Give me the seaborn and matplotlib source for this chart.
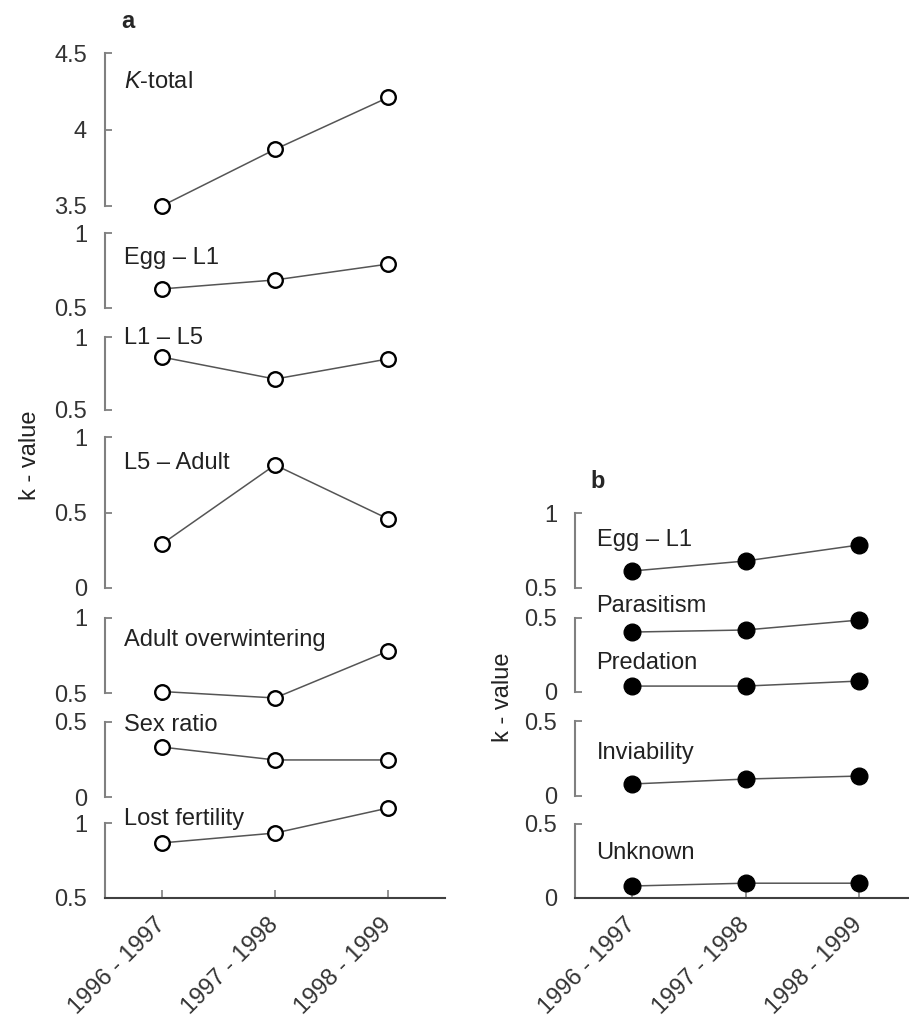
import matplotlib
matplotlib.use('Agg')
import matplotlib.pyplot as plt
from matplotlib.ticker import FuncFormatter
import seaborn as sns
import pandas as pd

# --- data ---
periods = ['1996 - 1997', '1997 - 1998', '1998 - 1999']

# panel a (open circles)
a_names = [r'$K$-total', 'Egg – L1', 'L1 – L5', 'L5 – Adult',
           'Adult overwintering', 'Sex ratio', 'Lost fertility']
a_k_total = [3.50, 3.87, 4.21]
a_egg_l1 = [0.627, 0.687, 0.793]
a_l1_l5 = [0.863, 0.712, 0.850]
a_l5_adult = [0.290, 0.815, 0.457]
a_adult_overwinter = [0.510, 0.467, 0.780]
a_sex_ratio = [0.333, 0.247, 0.247]
a_lost_fertility = [0.867, 0.933, 1.100]
a_ticks = [[3.5, 4, 4.5], [0.5, 1], [0.5, 1], [0, 0.5, 1],
           [0.5, 1], [0, 0.5], [0.5, 1]]

# panel b (filled circles); parasitism and predation share one axis
b_egg_l1 = [0.613, 0.680, 0.787]
b_parasitism = [0.405, 0.419, 0.486]
b_predation = [0.040, 0.040, 0.074]
b_inviability = [0.080, 0.113, 0.133]
b_unknown = [0.081, 0.100, 0.100]
b_ticks = [[0.5, 1], [0, 0.5], [0, 0.5], [0, 0.5]]

sns.set_theme(style='white')
plt.rcParams['font.family'] = ['Liberation Sans', 'DejaVu Sans']
plt.rcParams['mathtext.fontset'] = 'custom'
plt.rcParams['mathtext.rm'] = 'Liberation Sans'
plt.rcParams['mathtext.it'] = 'Liberation Sans:italic'

W, H = 909, 1019
FS = 17
fig = plt.figure(figsize=(W / 100, H / 100), dpi=100)


def add_axes(left, right, top, bottom):
    # pixel box -> figure fraction
    return fig.add_axes([left / W, 1 - bottom / H, (right - left) / W, (bottom - top) / H])


def style_axes(ax, ticks, last):
    ax.set_xlim(-0.5, 2.5)
    ax.set_ylim(ticks[0], ticks[-1])
    ax.set_facecolor('none')
    for s in ['top', 'right']:
        ax.spines[s].set_visible(False)
    ax.spines['left'].set_color('#808080')
    ax.spines['left'].set_linewidth(1.5)
    ax.set_yticks(ticks)
    ax.yaxis.set_major_formatter(FuncFormatter(lambda v, p: '%g' % v))
    ax.tick_params(axis='y', direction='in', length=5, width=1.3, color='#808080',
                   pad=13, labelsize=FS, labelcolor='#333333', left=True)
    ax.set_ylabel('')
    ax.set_xlabel('')
    if last:
        ax.spines['bottom'].set_color('#404040')
        ax.spines['bottom'].set_linewidth(1.5)
        ax.set_xticks(range(len(periods)))
        ax.set_xticklabels(periods, rotation=45, ha='right', va='center',
                           rotation_mode='anchor', fontsize=FS, color='#333333')
        ax.tick_params(axis='x', direction='in', length=6, width=1.2, color='#808080',
                       pad=17, bottom=True)
    else:
        ax.spines['bottom'].set_visible(False)
        ax.set_xticks([])
    if ax.get_legend():
        ax.get_legend().remove()


def draw(ax, values, filled):
    df = pd.DataFrame({'period': periods, 'k': values})
    if filled:
        kw = dict(marker='o', markersize=12, markerfacecolor='black',
                  markeredgecolor='black', markeredgewidth=1)
    else:
        kw = dict(marker='o', markersize=10.5, markerfacecolor='white',
                  markeredgecolor='black', markeredgewidth=1.7)
    sns.lineplot(data=df, x='period', y='k', ax=ax, color='#555555', linewidth=1.1,
                 sort=False, clip_on=False, **kw)


# panel a
a_series = [a_k_total, a_egg_l1, a_l1_l5, a_l5_adult,
            a_adult_overwinter, a_sex_ratio, a_lost_fertility]
a_boxes = [(53, 206), (233, 308), (337, 410), (437, 588), (618, 693), (722, 797), (823, 898)]
a_label_y = [4.31, 0.833, 0.99, 0.83, 0.853, 0.48, 1.027]
for i, vals in enumerate(a_series):
    top, bottom = a_boxes[i]
    ax = add_axes(105, 445, top, bottom)
    draw(ax, vals, filled=False)
    style_axes(ax, a_ticks[i], last=(i == len(a_series) - 1))
    ax.text(-0.33, a_label_y[i], a_names[i], fontsize=FS, color='#222222',
            ha='left', va='center')

# panel b
b_boxes = [(513, 588), (618, 692), (721, 796), (824, 898)]
b_groups = [[(b_egg_l1, 'Egg – L1', 0.82)],
            [(b_parasitism, 'Parasitism', 0.58), (b_predation, 'Predation', 0.196)],
            [(b_inviability, 'Inviability', 0.287)],
            [(b_unknown, 'Unknown', 0.307)]]
for i, group in enumerate(b_groups):
    top, bottom = b_boxes[i]
    ax = add_axes(575, 916, top, bottom)
    for vals, name, ly in group:
        draw(ax, vals, filled=True)
        ax.text(-0.31, ly, name, fontsize=FS, color='#222222', ha='left', va='center')
    style_axes(ax, b_ticks[i], last=(i == len(b_groups) - 1))

fig.text(128 / W, 1 - 22 / H, 'a', fontsize=FS, fontweight='bold', ha='center', va='center')
fig.text(598 / W, 1 - 481 / H, 'b', fontsize=FS, fontweight='bold', ha='center', va='center')
fig.text(30 / W, 1 - 455 / H, 'k - value', fontsize=FS, rotation=90, color='#222222',
         ha='center', va='center')
fig.text(503 / W, 1 - 697 / H, 'k - value', fontsize=FS, rotation=90, color='#222222',
         ha='center', va='center')

fig.savefig('out.png', dpi=100)
